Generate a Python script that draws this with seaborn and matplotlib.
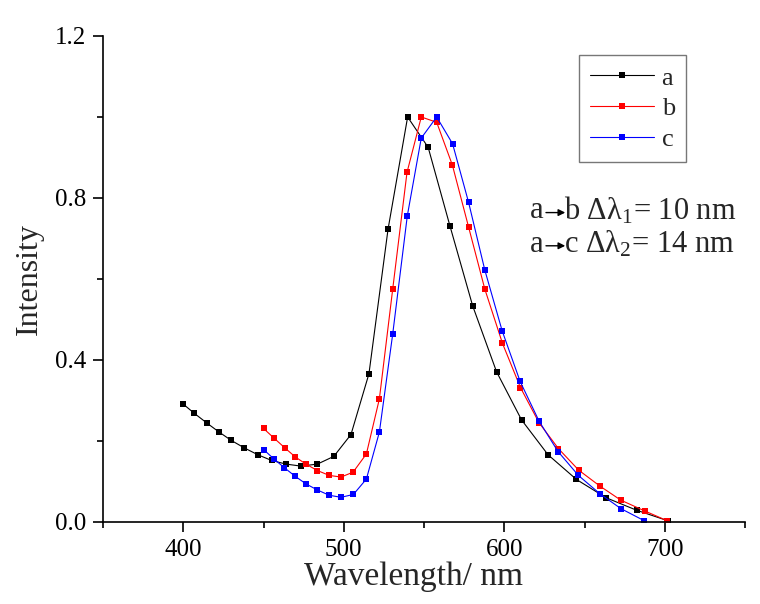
import numpy as np
import pandas as pd
import matplotlib
matplotlib.use("Agg")
import matplotlib.pyplot as plt
import seaborn as sns
from matplotlib.ticker import MultipleLocator

# ---- data ----
a_x = [400, 407, 414.5, 422, 429.7, 438, 446.5, 455, 464, 473.4, 483.6, 493.8, 504.5,
       515.7, 527.6, 539.8, 552.6, 566.1, 580.3, 595.2, 610.8, 627.3, 645, 663.4, 682.5, 702]
a_y = [0.291, 0.268, 0.245, 0.223, 0.202, 0.183, 0.166, 0.152, 0.143, 0.138, 0.143, 0.162, 0.216,
       0.366, 0.723, 1.0, 0.925, 0.732, 0.534, 0.371, 0.252, 0.166, 0.105, 0.060, 0.029, 0.003]

b_x = [450, 456.6, 463.3, 469.7, 476.4, 483.6, 491, 498.3, 505.8, 514.1, 522.2, 530.5, 539.4,
       548.3, 557.9, 567.7, 577.8, 587.9, 598.9, 610.1, 621.7, 633.8, 646.4, 659.5, 672.6, 687.7, 701.6]
b_y = [0.231, 0.207, 0.183, 0.161, 0.143, 0.127, 0.115, 0.111, 0.123, 0.168, 0.304, 0.575, 0.863,
       1.0, 0.987, 0.881, 0.728, 0.575, 0.441, 0.332, 0.245, 0.181, 0.128, 0.089, 0.054, 0.027, 0.003]

c_x = [450, 456.4, 463, 469.7, 476.5, 483.6, 491, 498.3, 506, 514.1, 522.2, 530.5, 539.6,
       548.3, 557.9, 567.8, 577.8, 587.9, 598.7, 609.9, 621.7, 633.5, 646.2, 659.5, 672.7, 687.3]
c_y = [0.179, 0.156, 0.134, 0.113, 0.094, 0.079, 0.066, 0.061, 0.068, 0.106, 0.222, 0.464, 0.756,
       0.948, 1.0, 0.934, 0.789, 0.622, 0.472, 0.347, 0.249, 0.174, 0.115, 0.070, 0.033, 0.003]

series_names = ["a", "b", "c"]
series_colors = ["#000000", "#ff0000", "#0000ff"]
x_ticks = [400, 500, 600, 700]
y_ticks = [0.0, 0.4, 0.8, 1.2]

df = pd.concat([
    pd.DataFrame({"Wavelength": a_x, "Intensity": a_y, "sample": "a"}),
    pd.DataFrame({"Wavelength": b_x, "Intensity": b_y, "sample": "b"}),
    pd.DataFrame({"Wavelength": c_x, "Intensity": c_y, "sample": "c"}),
], ignore_index=True)

sns.set_style("ticks")
plt.rcParams["font.family"] = ["Liberation Serif", "DejaVu Serif"]
plt.rcParams["mathtext.fontset"] = "custom"
plt.rcParams["mathtext.rm"] = "Liberation Serif"
plt.rcParams["mathtext.it"] = "Liberation Serif"

fig = plt.figure(figsize=(7.6, 6.04), dpi=100)
ax = fig.add_axes([103 / 760, 82 / 604, 642 / 760, 486 / 604])

sns.lineplot(data=df, x="Wavelength", y="Intensity", hue="sample",
             hue_order=series_names, palette=dict(zip(series_names, series_colors)),
             marker="s", markersize=4.8, markeredgewidth=0, linewidth=0.8,
             sort=False, estimator=None, ax=ax)

ax.set_xlim(350, 750)
ax.set_ylim(0, 1.2)
ax.set_xticks(x_ticks)
ax.set_yticks(y_ticks)
ax.set_yticklabels([f"{v:.1f}" for v in y_ticks])
ax.xaxis.set_minor_locator(MultipleLocator(50))
ax.yaxis.set_minor_locator(MultipleLocator(0.2))
ax.tick_params(which="major", direction="out", length=7, width=1.2, labelsize=18,
               colors="black", pad=5)
ax.tick_params(which="minor", direction="out", length=4, width=1.2, colors="black")
for s in ["top", "right"]:
    ax.spines[s].set_visible(False)
for s in ["left", "bottom"]:
    ax.spines[s].set_linewidth(1.2)
    ax.spines[s].set_color("black")

ax.set_xlabel("Wavelength/ nm", fontsize=24, labelpad=0)
ax.xaxis.set_label_coords(0.483, -0.082)
ax.set_ylabel("Intensity", fontsize=23, labelpad=8)

leg = ax.legend(loc="upper right", bbox_to_anchor=(0.908, 0.961), borderaxespad=0,
                fontsize=19, frameon=True, fancybox=False, handlelength=2.4,
                handletextpad=0.3, labelspacing=0.28, borderpad=0.42)
leg.get_frame().set_edgecolor("#555555")
leg.get_frame().set_linewidth(1.0)
for h in leg.legend_handles:
    h.set_linewidth(0.8)

# annotation
ty1, ty2 = 0.768, 0.686
fs = 22
ax.text(616, ty1, "a", fontsize=fs, va="center", ha="left")
ax.annotate("", xy=(638, ty1 - 0.004), xytext=(626, ty1 - 0.004),
            arrowprops=dict(arrowstyle="-|>", color="black", lw=1, mutation_scale=10,
                            shrinkA=0, shrinkB=0))
ax.text(637.5, ty1, r"b Δλ$_1$= 10 nm", fontsize=fs, va="center", ha="left")
ax.text(616, ty2, "a", fontsize=fs, va="center", ha="left")
ax.annotate("", xy=(638, ty2 - 0.004), xytext=(626, ty2 - 0.004),
            arrowprops=dict(arrowstyle="-|>", color="black", lw=1, mutation_scale=10,
                            shrinkA=0, shrinkB=0))
ax.text(637.5, ty2, r"c Δλ$_2$= 14 nm", fontsize=fs, va="center", ha="left")

fig.savefig("out.png", dpi=100)
